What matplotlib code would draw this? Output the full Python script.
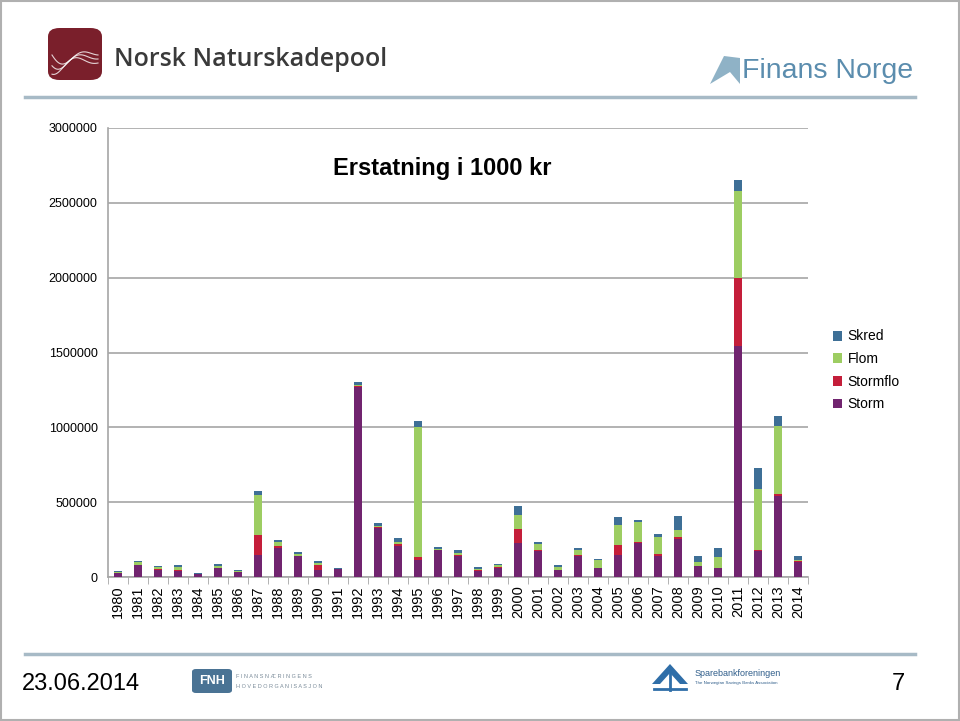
import matplotlib.pyplot as plt
import numpy as np
from matplotlib.patches import FancyBboxPatch, Rectangle, Polygon

plt.rcParams['font.family'] = ['Liberation Sans', 'DejaVu Sans']

years = [str(y) for y in range(1980, 2015)]

storm = [25000, 80000, 50000, 42000, 18000, 58000, 33000, 148000, 196000, 138000,
         45000, 52000, 1268000, 325000, 210000, 112000, 178000, 140000, 42000, 62000,
         225000, 175000, 45000, 138000, 58000, 145000, 227000, 143000, 254000, 72000,
         57000, 1546000, 174000, 540000, 102000]
stormflo = [3000, 3000, 3000, 2000, 1000, 3000, 2000, 132000, 8000, 5000,
            35000, 2000, 5000, 8000, 9000, 20000, 3000, 5000, 2000, 3000,
            94000, 4000, 3000, 7000, 5000, 70000, 10000, 9000, 11000, 3000,
            3000, 451000, 6000, 12000, 6000]
flom = [8000, 15000, 12000, 20000, 2000, 12000, 4000, 270000, 33000, 14000,
        12000, 2000, 12000, 5000, 18000, 870000, 5000, 18000, 8000, 15000,
        93000, 44000, 17000, 35000, 48000, 135000, 130000, 113000, 51000, 25000,
        76000, 585000, 406000, 457000, 4000]
skred = [4000, 7000, 7000, 14000, 6000, 14000, 10000, 25000, 10000, 10000,
         13000, 6000, 16000, 22000, 26000, 40000, 12000, 17000, 17000, 5000,
         61000, 11000, 17000, 12000, 7000, 50000, 12000, 22000, 92000, 40000,
         60000, 70000, 145000, 65000, 28000]

series = ['Storm', 'Stormflo', 'Flom', 'Skred']
colors = ['#71246F', '#C41E3A', '#9DCD62', '#3E6F96']

fig = plt.figure(figsize=(9.6, 7.21), dpi=100)
fig.patch.set_facecolor('white')

# chart area
ax = fig.add_axes([108/960, 1-577/721, 700/960, 449/721])
x = np.arange(len(years))
bottom = np.zeros(len(years))
handles = []
for name, vals, c in zip(series, [storm, stormflo, flom, skred], colors):
    h = ax.bar(x, vals, 0.42, bottom=bottom, color=c, label=name, zorder=3)
    handles.append(h)
    bottom += np.array(vals)

ax.set_xlim(-0.5, len(years) - 0.5)
ax.set_ylim(0, 3000000)
ax.set_yticks(np.arange(0, 3000001, 500000))
ax.set_yticklabels([str(v) for v in range(0, 3000001, 500000)], fontsize=9)
ax.yaxis.grid(True, color='#A6A6A6', linewidth=1.2, zorder=0)
ax.tick_params(axis='y', length=0, pad=7.5)
ax.set_xticks(x)
ax.set_xticklabels(years, rotation=90, fontsize=10.5)
ax.set_xticks(np.arange(-0.5, len(years)), minor=True)
ax.tick_params(axis='x', which='major', length=0, pad=6)
ax.tick_params(axis='x', which='minor', length=5, color='#A6A6A6')
for s in ['top', 'right']:
    ax.spines[s].set_visible(False)
ax.spines['left'].set_color('#A6A6A6')
ax.spines['bottom'].set_color('#A6A6A6')
ax.spines['left'].set_linewidth(1.2)
ax.spines['bottom'].set_linewidth(1.2)

fig.text(442/960, 1-168/721, 'Erstatning i 1000 kr', fontsize=17, fontweight='bold',
         ha='center', va='center')

fig.legend(handles[::-1], series[::-1], loc='upper left',
           bbox_to_anchor=(820/960, 1-317/721), frameon=False, fontsize=10,
           handlelength=0.7, handleheight=0.7, handletextpad=0.4, labelspacing=0.62)

# slide decoration
fig.add_artist(Rectangle((0.001, 0.001), 0.998, 0.997, transform=fig.transFigure,
                         fill=False, edgecolor='#B0B0B0', linewidth=1.5))
fig.add_artist(plt.Line2D([25/960, 915/960], [1-97/721, 1-97/721], color='#A7BAC6', linewidth=2.5))
fig.add_artist(plt.Line2D([25/960, 915/960], [1-654/721, 1-654/721], color='#A7BAC6', linewidth=2.5))

# Norsk Naturskadepool logo
fig.add_artist(FancyBboxPatch((48/960, 1-80/721), 54/960, 52/721, boxstyle='round,pad=0,rounding_size=0.012',
                              transform=fig.transFigure, facecolor='#7A1F2B', edgecolor='none'))
t = np.linspace(0, 1, 50)
for k in range(3):
    fig.add_artist(plt.Line2D(52/960 + t*46/960,
                              1-(55 + 12*np.sin(t*6.0 + k*0.6) * (1-t) + k*4)/721,
                              color='white', linewidth=0.8, alpha=0.8))
fig.text(114/960, 1-60/721, 'Norsk Naturskadepool', fontsize=18, color='#3A3A3A',
         va='center', ha='left', family='Open Sans', fontweight='semibold')

# Finans Norge logo
fig.add_artist(Polygon([(710/960, 1-84/721), (724/960, 1-56/721), (740/960, 1-58/721),
                        (740/960, 1-84/721), (730/960, 1-72/721)], closed=True,
                       transform=fig.transFigure, facecolor='#8FB2C6', edgecolor='none'))
fig.text(742/960, 1-71/721, 'Finans Norge', fontsize=20.5, color='#5B8DAE', va='center', ha='left')

# footer
fig.text(22/960, 1-684/721, '23.06.2014', fontsize=17, va='center', ha='left')
fig.text(905/960, 1-684/721, '7', fontsize=17, va='center', ha='right')
fig.add_artist(FancyBboxPatch((192/960, 1-693/721), 40/960, 24/721, boxstyle='round,pad=0,rounding_size=0.004',
                              transform=fig.transFigure, facecolor='#4A7394', edgecolor='none'))
fig.text(212/960, 1-681/721, 'FNH', fontsize=9, color='white', fontweight='bold', va='center', ha='center')
fig.text(236/960, 1-676/721, 'F I N A N S N Æ R I N G E N S', fontsize=4, color='#7A8B99', va='center', ha='left')
fig.text(236/960, 1-686/721, 'H O V E D O R G A N I S A S J O N', fontsize=4, color='#7A8B99', va='center', ha='left')
# Sparebankforeningen emblem
fig.add_artist(Polygon([(670/960, 1-664/721), (652/960, 1-684/721), (660/960, 1-684/721),
                        (670/960, 1-673/721), (680/960, 1-684/721), (688/960, 1-684/721)],
                       closed=True, transform=fig.transFigure, facecolor='#2F6EA8', edgecolor='none'))
fig.add_artist(plt.Line2D([670/960, 670/960], [1-672/721, 1-690/721], color='#2F6EA8', linewidth=2))
fig.add_artist(plt.Line2D([654/960, 686/960], [1-689/721, 1-689/721], color='#2F6EA8', linewidth=2))
fig.text(695/960, 1-673/721, 'Sparebankforeningen', fontsize=6.5, color='#2F5D8A', va='center', ha='left')
fig.text(695/960, 1-683/721, 'The Norwegian Savings Banks Association', fontsize=3.2, color='#2F5D8A', va='center', ha='left')

fig.savefig('out.png', dpi=100)
